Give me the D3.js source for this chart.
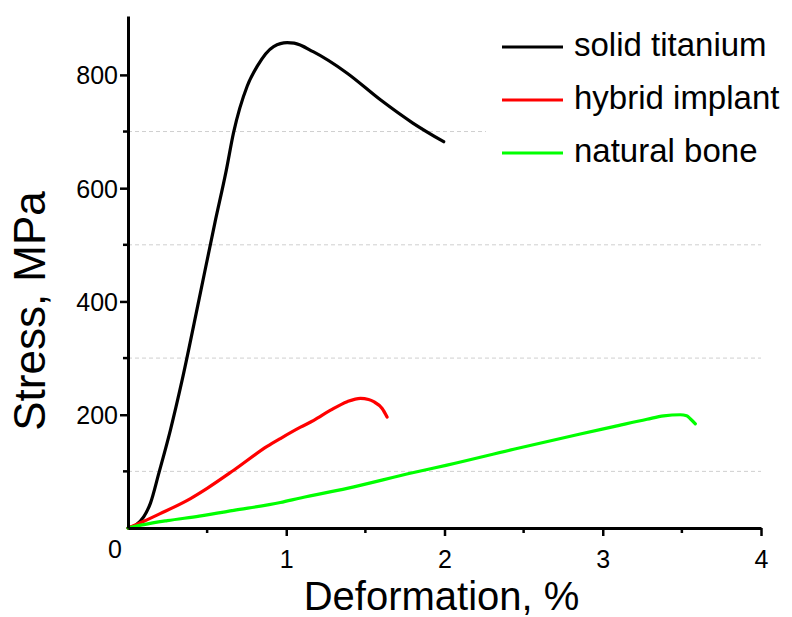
<!DOCTYPE html>
<html>
<head>
    <title>Stress vs deformation</title>
    <script src="https://d3js.org/d3.v7.min.js"></script>
    <style>
        body { margin: 0; background: #fff; }
        text { font-family: "Liberation Sans", Arial, sans-serif; fill: #000; }
        .axis path, .axis line { stroke: #000; }
        .axis text { font-size: 25px; }
        .grid line { stroke: #cfcfcf; stroke-width: 1; stroke-dasharray: 4,3; }
    </style>
</head>
<body>
    <svg width="792" height="617"></svg>
    <script>
        // solid titanium (cut off where the legend box begins)
        const titaniumX = [0, 0.05, 0.1, 0.142, 0.195, 0.268, 0.342, 0.45, 0.55, 0.62, 0.667, 0.753, 0.816, 0.92, 1.006, 1.05, 1.17, 1.385, 1.595, 1.80, 1.995];
        const titaniumY = [0, 5, 20, 44, 97, 173, 261, 405, 540, 630, 698, 780, 815, 850, 857, 856, 841, 803, 756, 715, 682];
        // hybrid implant
        const hybridX = [0, 0.1, 0.2, 0.395, 0.5, 0.668, 0.879, 0.963, 1.09, 1.174, 1.28, 1.385, 1.469, 1.52, 1.553, 1.606, 1.637];
        const hybridY = [0, 12, 25, 52, 70, 102, 144, 158, 178, 190, 208, 223, 229, 227, 223, 211, 196];
        // natural bone
        const boneX = [0, 0.1, 0.248, 0.45, 0.668, 0.963, 1.09, 1.385, 1.805, 2.016, 2.437, 2.858, 3.069, 3.28, 3.385, 3.49, 3.53, 3.553, 3.585];
        const boneY = [0, 6, 13, 21, 31, 45, 53, 70, 98, 111, 139, 166, 179, 192, 198, 200, 198, 193, 184];

        const seriesNames = ["solid titanium", "hybrid implant", "natural bone"];
        const seriesColors = ["#000000", "#ff0000", "#00ff00"];
        const xTicks = [1, 2, 3, 4];
        const xMinorTicks = [0.5, 1.5, 2.5, 3.5];
        const yTicks = [200, 400, 600, 800];
        const yMinorTicks = [100, 300, 500, 700];

        const margin = { top: 16, right: 31, bottom: 89, left: 128 };
        const width = 792 - margin.left - margin.right;
        const height = 617 - margin.top - margin.bottom;

        const svg = d3.select("svg");
        const g = svg.append("g")
            .attr("transform", `translate(${margin.left},${margin.top})`);

        const x = d3.scaleLinear().domain([0, 4]).range([0, width]);
        const y = d3.scaleLinear().domain([0, 904]).range([height, 0]);

        // dashed gridlines at the minor ticks
        g.append("g")
            .attr("class", "grid")
            .selectAll("line")
            .data(yMinorTicks)
            .enter().append("line")
            .attr("x1", 0)
            .attr("x2", width)
            .attr("y1", d => y(d))
            .attr("y2", d => y(d));

        const series = [
            { xs: titaniumX, ys: titaniumY },
            { xs: hybridX, ys: hybridY },
            { xs: boneX, ys: boneY }
        ];

        const line = d3.line()
            .x(d => x(d[0]))
            .y(d => y(d[1]))
            .curve(d3.curveMonotoneX);

        series.forEach((s, i) => {
            g.append("path")
                .datum(s.xs.map((v, k) => [v, s.ys[k]]))
                .attr("fill", "none")
                .attr("stroke", seriesColors[i])
                .attr("stroke-width", 3.2)
                .attr("stroke-linejoin", "round")
                .attr("stroke-linecap", "round")
                .attr("d", line);
        });

        // legend box (white, covers the plot behind it)
        const legend = svg.append("g");
        legend.append("rect")
            .attr("x", 486)
            .attr("y", 0)
            .attr("width", 306)
            .attr("height", 215)
            .attr("fill", "#fff");

        seriesNames.forEach((name, i) => {
            const ly = 47 + i * 53;
            legend.append("line")
                .attr("x1", 502).attr("x2", 563)
                .attr("y1", ly).attr("y2", ly)
                .attr("stroke", seriesColors[i])
                .attr("stroke-width", 3);
            legend.append("text")
                .attr("x", 574)
                .attr("y", ly + 9)
                .attr("font-size", 33)
                .text(name);
        });

        // axes
        const xAxis = g.append("g")
            .attr("class", "axis")
            .attr("transform", `translate(0,${height})`)
            .call(d3.axisBottom(x).tickValues(xTicks).tickSize(8).tickSizeOuter(0).tickFormat(d3.format("d")));
        xAxis.attr("font-size", null).attr("font-family", null);
        xAxis.select(".domain").attr("stroke-width", 3);
        xAxis.selectAll(".tick line").attr("stroke-width", 2.5);
        xAxis.selectAll(".tick text").attr("dy", null).attr("y", 40);

        xAxis.selectAll(".minor")
            .data(xMinorTicks)
            .enter().append("line")
            .attr("class", "minor")
            .attr("x1", d => x(d)).attr("x2", d => x(d))
            .attr("y1", 0).attr("y2", 5)
            .attr("stroke", "#000")
            .attr("stroke-width", 2.5);

        const yAxis = g.append("g")
            .attr("class", "axis")
            .call(d3.axisLeft(y).tickValues(yTicks).tickSize(8).tickSizeOuter(0));
        yAxis.attr("font-size", null).attr("font-family", null);
        yAxis.select(".domain").attr("stroke-width", 3);
        yAxis.selectAll(".tick line").attr("stroke-width", 2.5);
        yAxis.selectAll(".tick text").attr("dy", "0.36em").attr("x", -10);

        yAxis.selectAll(".minor")
            .data(yMinorTicks)
            .enter().append("line")
            .attr("class", "minor")
            .attr("x1", 0).attr("x2", -5)
            .attr("y1", d => y(d)).attr("y2", d => y(d))
            .attr("stroke", "#000")
            .attr("stroke-width", 2.5);

        // shared zero at the corner
        g.append("text")
            .attr("x", x(0) - 13)
            .attr("y", y(0) + 30)
            .attr("text-anchor", "middle")
            .attr("font-size", 25)
            .text("0");

        // axis titles
        svg.append("text")
            .attr("x", margin.left + width / 2 - 3)
            .attr("y", 610)
            .attr("text-anchor", "middle")
            .attr("font-size", 40)
            .text("Deformation, %");

        svg.append("text")
            .attr("transform", "translate(45,311) rotate(-90)")
            .attr("text-anchor", "middle")
            .attr("font-size", 44)
            .text("Stress, MPa");
    </script>
</body>
</html>
